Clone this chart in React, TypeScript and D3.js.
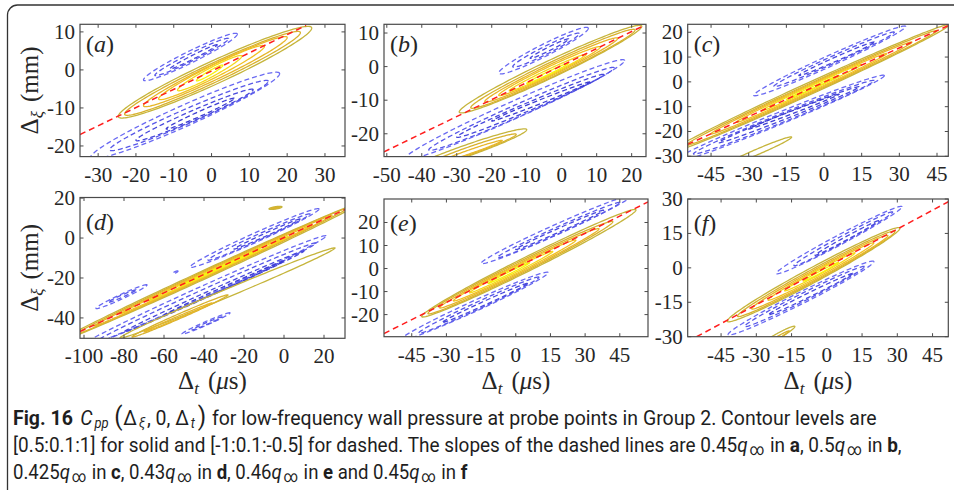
import React, { useLayoutEffect, useRef } from 'react';
import * as d3 from 'd3';

// One contour ring: [level, t1, xi1, t2, xi2, half-thickness in xi]
// (t1, xi1) and (t2, xi2) are the two tips of the elongated loop.
type Ring = [number, number, number, number, number, number];

const panelTags = ['a', 'b', 'c', 'd', 'e', 'f'];

const tLimits: [number, number][] = [
  [-34.8, 35.3],
  [-50.8, 24.1],
  [-54.3, 49.5],
  [-102, 30.5],
  [-57.0, 57.2],
  [-59.2, 51.7],
];

const xiLimits: [number, number][] = [
  [-22.8, 12.0],
  [-26.8, 12.6],
  [-30, 23.2],
  [-50.2, 20.3],
  [-29.6, 30.2],
  [-30, 30],
];

const tTickValues: number[][] = [
  [-30, -20, -10, 0, 10, 20, 30],
  [-50, -40, -30, -20, -10, 0, 10, 20],
  [-45, -30, -15, 0, 15, 30, 45],
  [-100, -80, -60, -40, -20, 0, 20],
  [-45, -30, -15, 0, 15, 30, 45],
  [-45, -30, -15, 0, 15, 30, 45],
];

const xiTickValues: number[][] = [
  [-20, -10, 0, 10],
  [-20, -10, 0, 10],
  [-30, -20, -10, 0, 10, 20],
  [-40, -20, 0, 20],
  [-20, -10, 0, 10, 20],
  [-30, -15, 0, 15, 30],
];

// Red dashed convection lines [t0, xi0, t1, xi1]
const convectionLines: [number, number, number, number][] = [
  [-34.8, -17.0, 25.0, 11.7],
  [-50.8, -25.4, 22.9, 11.9],
  [-54.3, -25.2, 49.5, 22.7],
  [-102, -46.8, 30.5, 14.3],
  [-57.0, -28.2, 57.2, 28.9],
  [-55.4, -30.0, 51.7, 28.8],
];

const solidA: Ring[] = [
  [0.5, -24.7, -12.2, 26.5, 11.0, 3.3],
  [0.6, -23.0, -11.6, 23.5, 9.8, 2.7],
  [0.7, -18.0, -9.4, 20.0, 8.5, 2.2],
  [0.8, -14.0, -7.6, 14.0, 6.2, 1.8],
  [0.9, -9.0, -5.3, 8.0, 3.6, 1.3],
  [1.0, -4.0, -2.8, 3.0, 1.2, 0.6],
];
const dashedA: Ring[] = [
  [-0.5, -18.0, -2.6, 6.8, 9.4, 1.7],
  [-0.6, -15.0, -1.4, 4.5, 8.2, 1.1],
  [-0.7, -11.0, 0.3, 1.5, 6.6, 0.55],
  [-0.5, -32.0, -23.0, 18.0, -1.0, 3.0],
  [-0.6, -27.0, -21.0, 15.0, -3.0, 2.1],
  [-0.7, -20.0, -18.5, 11.0, -5.2, 1.4],
  [-0.8, -12.0, -15.5, 6.0, -7.5, 0.7],
];

const solidB: Ring[] = [
  [0.5, -29.3, -13.5, 22.9, 12.0, 2.8],
  [0.6, -26.0, -12.2, 21.0, 10.9, 2.3],
  [0.7, -22.0, -10.4, 16.0, 8.4, 1.8],
  [0.8, -18.0, -8.5, 11.0, 5.8, 1.4],
  [0.9, -15.0, -7.2, 7.0, 3.6, 0.9],
  [1.0, -10.0, -5.0, 2.0, 1.0, 0.45],
  [0.5, -45.0, -31.5, -10.0, -18.8, 1.8],
  [0.6, -40.0, -30.0, -13.0, -20.2, 1.2],
  [0.7, -35.0, -28.5, -17.0, -22.0, 0.6],
];
const dashedB: Ring[] = [
  [-0.5, -18.0, -1.9, 7.6, 11.4, 2.0],
  [-0.6, -14.0, 0.0, 5.0, 9.8, 1.3],
  [-0.7, -9.0, 2.5, 2.0, 8.2, 0.6],
  [-0.5, -45.0, -27.5, 18.0, 1.8, 2.8],
  [-0.6, -38.0, -24.8, 15.0, -0.4, 2.0],
  [-0.7, -30.0, -21.0, 12.0, -2.4, 1.3],
  [-0.8, -20.0, -16.2, 8.0, -4.6, 0.6],
];

const solidC: Ring[] = [
  [0.5, -62.0, -28.6, 50.0, 23.0, 2.6],
  [0.6, -55.0, -25.5, 45.0, 20.6, 2.1],
  [0.7, -45.0, -20.9, 35.0, 16.0, 1.7],
  [0.8, -35.0, -16.3, 25.0, 11.4, 1.3],
  [0.9, -25.0, -11.7, 15.0, 7.0, 0.85],
  [1.0, -15.0, -7.1, 6.0, 2.6, 0.4],
  [0.5, -40.0, -34.0, -12.9, -22.3, 1.2],
];
const dashedC: Ring[] = [
  [-0.5, -28.0, -5.4, 32.5, 22.3, 2.4],
  [-0.6, -20.0, -1.8, 28.0, 20.0, 1.6],
  [-0.7, -10.0, 2.6, 20.0, 16.0, 0.9],
  [-0.5, -62.0, -33.0, 24.0, 2.5, 2.6],
  [-0.6, -52.0, -29.0, 20.0, 0.5, 1.9],
  [-0.7, -42.0, -24.5, 14.0, -2.0, 1.2],
  [-0.8, -30.0, -19.0, 6.0, -5.0, 0.6],
];

const solidD: Ring[] = [
  [0.5, -112.0, -51.5, 38.0, 17.5, 2.3],
  [0.6, -105.0, -48.5, 32.0, 15.0, 1.8],
  [0.7, -95.0, -44.0, 24.0, 11.3, 1.4],
  [0.8, -82.0, -38.0, 14.0, 6.5, 1.0],
  [0.9, -68.0, -31.5, 2.0, 0.8, 0.65],
  [1.0, -52.0, -24.0, -12.0, -5.5, 0.35],
  [0.5, -82.0, -50.0, 25.5, -5.0, 2.2],
  [0.6, -76.0, -49.5, -28.0, -28.5, 1.3],
  [0.7, -70.0, -47.0, -36.0, -32.5, 0.6],
  [0.5, -7.5, 14.6, -1.0, 15.6, 0.6],
  [0.6, -6.5, 14.8, -2.0, 15.4, 0.3],
];
const dashedD: Ring[] = [
  [-0.5, -47.0, -14.5, 17.5, 14.5, 2.5],
  [-0.6, -38.0, -11.0, 13.0, 12.0, 1.6],
  [-0.7, -25.0, -5.5, 8.0, 9.5, 0.8],
  [-0.5, -94.0, -35.2, -68.5, -23.5, 1.3],
  [-0.6, -88.0, -32.2, -74.0, -26.0, 0.6],
  [-0.5, -55.5, -17.6, -53.0, -16.6, 0.4],
  [-0.5, -104.0, -55.5, 21.0, 1.0, 3.0],
  [-0.6, -95.0, -52.5, 16.0, -2.5, 2.2],
  [-0.7, -80.0, -47.0, 10.0, -6.5, 1.4],
  [-0.8, -60.0, -38.5, 0.0, -11.5, 0.7],
  [-0.5, -51.0, -48.0, -27.0, -37.5, 1.0],
  [-0.6, -46.0, -46.0, -31.0, -39.5, 0.5],
];

const solidE: Ring[] = [
  [0.5, -40.7, -20.8, 52.0, 25.4, 3.4],
  [0.6, -38.0, -19.5, 42.0, 20.3, 2.8],
  [0.7, -33.0, -17.0, 36.0, 17.2, 2.2],
  [0.8, -27.0, -14.0, 26.0, 12.3, 1.7],
  [0.9, -20.0, -10.5, 16.0, 7.4, 1.1],
  [1.0, -12.0, -6.5, 6.0, 2.5, 0.5],
];
const dashedE: Ring[] = [
  [-0.5, -15.0, 2.3, 50.0, 31.5, 2.4],
  [-0.6, -8.0, 4.8, 45.0, 28.6, 1.6],
  [-0.7, 0.0, 8.3, 38.0, 25.3, 0.9],
  [-0.5, -50.0, -31.0, 14.0, -1.8, 2.5],
  [-0.6, -42.0, -28.0, 10.0, -3.8, 1.7],
  [-0.7, -32.0, -23.5, 5.0, -6.5, 0.9],
];

const solidF: Ring[] = [
  [0.5, -42.4, -23.2, 31.1, 17.2, 3.6],
  [0.6, -38.0, -21.0, 29.0, 15.8, 2.9],
  [0.7, -32.0, -17.8, 26.0, 14.0, 2.3],
  [0.8, -25.0, -14.0, 20.0, 10.8, 1.7],
  [0.9, -18.0, -10.0, 12.0, 6.5, 1.1],
  [1.0, -10.0, -5.8, 5.0, 2.4, 0.5],
  [0.5, -30.0, -35.0, -13.6, -25.6, 1.3],
  [0.6, -27.0, -34.0, -16.0, -27.5, 0.6],
];
const dashedF: Ring[] = [
  [-0.5, -21.5, -2.4, 32.0, 26.6, 2.4],
  [-0.6, -14.0, 1.0, 28.0, 24.3, 1.6],
  [-0.7, -5.0, 5.5, 22.0, 20.5, 0.8],
  [-0.5, -42.0, -29.0, 20.0, 2.7, 2.8],
  [-0.6, -35.0, -25.5, 16.0, 0.5, 1.9],
  [-0.7, -25.0, -20.5, 11.0, -2.5, 1.0],
];

const solidRings = [solidA, solidB, solidC, solidD, solidE, solidF];
const dashedRings = [dashedA, dashedB, dashedC, dashedD, dashedE, dashedF];

// Axes boxes in page pixels
const frames = [
  { left: 80, top: 24.3, right: 345, bottom: 156.6 },
  { left: 384, top: 24.3, right: 646, bottom: 156.6 },
  { left: 687.7, top: 24.3, right: 948.3, bottom: 156.3 },
  { left: 80, top: 197.5, right: 345, bottom: 338.3 },
  { left: 384, top: 199, right: 648, bottom: 336.7 },
  { left: 687.7, top: 199, right: 948.3, bottom: 336.7 },
];

const levelColor = (level: number): string => {
  const solid: Record<string, string> = {
    '0.5': '#c6b53c',
    '0.6': '#d8b22e',
    '0.7': '#e7b62a',
    '0.8': '#f1c124',
    '0.9': '#f5d91c',
    '1': '#f7f20f',
  };
  const dashed: Record<string, string> = {
    '-0.5': '#6a6af2',
    '-0.6': '#5858e8',
    '-0.7': '#4848dc',
    '-0.8': '#3c3cd2',
  };
  const key = String(Math.round(level * 10) / 10);
  return level > 0 ? solid[key] : dashed[key];
};

const SERIF = "'Liberation Serif', 'Times New Roman', serif";
const SANS = "Roboto, 'Noto Sans', sans-serif";
const INK = '#262626';

function Panel({ idx }: { idx: number }) {
  const f = frames[idx];
  const x = d3.scaleLinear().domain(tLimits[idx]).range([f.left, f.right]);
  const y = d3.scaleLinear().domain(xiLimits[idx]).range([f.bottom, f.top]);
  const line = d3
    .line<[number, number]>()
    .x((d) => x(d[0]))
    .y((d) => y(d[1]))
    .curve(d3.curveLinearClosed);

  const ringPath = (r: Ring) => {
    const [, t1, x1, t2, x2, h] = r;
    const tm = (t1 + t2) / 2;
    const xm = (x1 + x2) / 2;
    const dt = (t2 - t1) / 2;
    const dx = (x2 - x1) / 2;
    const pts: [number, number][] = d3.range(160).map((i) => {
      const s = (i / 160) * Math.PI * 2;
      return [tm + dt * Math.cos(s), xm + dx * Math.cos(s) + h * Math.sin(s)];
    });
    return line(pts) || '';
  };

  const clipId = `clip-${panelTags[idx]}`;
  const bottomRow = idx >= 3;
  const [l0t, l0x, l1t, l1x] = convectionLines[idx];
  const tick = 3.5;

  return (
    <g>
      <defs>
        <clipPath id={clipId}>
          <rect x={f.left} y={f.top} width={f.right - f.left} height={f.bottom - f.top} />
        </clipPath>
      </defs>
      <g clipPath={`url(#${clipId})`} fill="none">
        {dashedRings[idx].map((r, i) => (
          <path
            key={`d${i}`}
            d={ringPath(r)}
            stroke={levelColor(r[0])}
            strokeWidth={1.3}
            strokeDasharray="5 3"
          />
        ))}
        {solidRings[idx].map((r, i) => (
          <path key={`s${i}`} d={ringPath(r)} stroke={levelColor(r[0])} strokeWidth={1.3} />
        ))}
        <line
          x1={x(l0t)}
          y1={y(l0x)}
          x2={x(l1t)}
          y2={y(l1x)}
          stroke="#ff1e1e"
          strokeWidth={1.5}
          strokeDasharray="6 4"
        />
      </g>
      {/* box with inward ticks on all sides */}
      <rect
        x={f.left}
        y={f.top}
        width={f.right - f.left}
        height={f.bottom - f.top}
        fill="none"
        stroke="#4a4a4a"
        strokeWidth={1.2}
      />
      {tTickValues[idx].map((v) => (
        <g key={`tx${v}`} stroke="#4a4a4a" strokeWidth={1}>
          <line x1={x(v)} x2={x(v)} y1={f.bottom} y2={f.bottom - tick} />
          <line x1={x(v)} x2={x(v)} y1={f.top} y2={f.top + tick} />
        </g>
      ))}
      {xiTickValues[idx].map((v) => (
        <g key={`ty${v}`} stroke="#4a4a4a" strokeWidth={1}>
          <line x1={f.left} x2={f.left + tick} y1={y(v)} y2={y(v)} />
          <line x1={f.right} x2={f.right - tick} y1={y(v)} y2={y(v)} />
        </g>
      ))}
      <g fontFamily={SERIF} fontSize={21} fill={INK}>
        {tTickValues[idx].map((v) => (
          <text key={`lx${v}`} x={x(v)} y={f.bottom + 25} textAnchor="middle">
            {String(v)}
          </text>
        ))}
        {xiTickValues[idx].map((v) => (
          <text key={`ly${v}`} x={f.left - 5} y={y(v) + 7} textAnchor="end">
            {String(v)}
          </text>
        ))}
      </g>
      <text
        x={f.left + 6}
        y={f.top + (bottomRow ? 32 : 28)}
        fontFamily={SERIF}
        fontSize={24}
        fill={INK}
      >
        (<tspan fontStyle="italic">{panelTags[idx]}</tspan>)
      </text>
      {bottomRow && (
        <text
          x={(f.left + f.right) / 2}
          y={389}
          textAnchor="middle"
          fontFamily={SERIF}
          fontSize={25}
          fill={INK}
        >
          Δ
          <tspan fontStyle="italic" fontSize={17} baselineShift="-5">
            t
          </tspan>
          <tspan dx={9}>(</tspan>
          <tspan fontStyle="italic">μ</tspan>s)
        </text>
      )}
      {idx % 3 === 0 && (
        <text
          transform={`translate(38, ${(f.top + f.bottom) / 2}) rotate(-90)`}
          textAnchor="middle"
          fontFamily={SERIF}
          fontSize={25}
          fill={INK}
        >
          Δ
          <tspan fontStyle="italic" fontSize={17} baselineShift="-5">
            ξ
          </tspan>
          <tspan dx={9}>(mm)</tspan>
        </text>
      )}
    </g>
  );
}

const captionStarts = 13;
const captionBaselines = [424.5, 451.5, 478.5];
const captionWidths = [864, 889, 455];

function Qinf() {
  return (
    <>
      <tspan fontStyle="italic">q</tspan>
      <tspan dx={2} fontSize={16} baselineShift="-3">
        ∞
      </tspan>
    </>
  );
}

export default function App() {
  const lineRefs = useRef<(SVGTextElement | null)[]>([]);

  useLayoutEffect(() => {
    lineRefs.current.forEach((el, i) => {
      if (!el) return;
      el.setAttribute('transform', `translate(${captionStarts}, ${captionBaselines[i]})`);
      const w = el.getBBox().width;
      if (w > 0) {
        const k = captionWidths[i] / w;
        el.setAttribute(
          'transform',
          `translate(${captionStarts}, ${captionBaselines[i]}) scale(${k}, 1)`
        );
      }
    });
  });

  const captionText = (i: number, children: React.ReactNode) => (
    <text
      ref={(el) => {
        lineRefs.current[i] = el;
      }}
      transform={`translate(${captionStarts}, ${captionBaselines[i]})`}
      x={0}
      y={0}
      fontFamily={SANS}
      fontSize={21}
      fill="#1e1e1e"
    >
      {children}
    </text>
  );

  return (
    <svg
      width={954}
      height={497}
      viewBox="0 0 954 497"
      style={{ position: 'absolute', left: 0, top: 0, display: 'block', background: '#fff' }}
    >
      <path
        d="M 7.5 490 V 15 A 10 10 0 0 1 17.5 5 H 960"
        fill="none"
        stroke="#333"
        strokeWidth={1.3}
      />
      {panelTags.map((_, i) => (
        <Panel key={i} idx={i} />
      ))}
      {captionText(
        0,
        <>
          <tspan fontWeight="bold">Fig. 16</tspan>
          <tspan dx={8} fontStyle="italic">C</tspan>
          <tspan dx={2} fontStyle="italic" fontSize={14} baselineShift="-3">
            pp
          </tspan>
          <tspan dx={6} fontSize={26}>
            (
          </tspan>
          <tspan dx={1}>Δ</tspan>
          <tspan dx={2} fontStyle="italic" fontSize={14} baselineShift="-3">
            ξ
          </tspan>
          <tspan dx={2}>, 0, Δ</tspan>
          <tspan dx={2} fontStyle="italic" fontSize={14} baselineShift="-3">
            t
          </tspan>
          <tspan dx={3} fontSize={26}>
            )
          </tspan>
          <tspan dx={1}> for low-frequency wall pressure at probe points in Group 2. Contour levels are</tspan>
        </>
      )}
      {captionText(
        1,
        <>
          [0.5:0.1:1] for solid and [-1:0.1:-0.5] for dashed. The slopes of the dashed lines are 0.45
          <Qinf />
          <tspan dx={1}> in </tspan>
          <tspan fontWeight="bold">a</tspan>, 0.5
          <Qinf />
          <tspan dx={1}> in </tspan>
          <tspan fontWeight="bold">b</tspan>,
        </>
      )}
      {captionText(
        2,
        <>
          0.425
          <Qinf />
          <tspan dx={1}> in </tspan>
          <tspan fontWeight="bold">c</tspan>, 0.43
          <Qinf />
          <tspan dx={1}> in </tspan>
          <tspan fontWeight="bold">d</tspan>, 0.46
          <Qinf />
          <tspan dx={1}> in </tspan>
          <tspan fontWeight="bold">e</tspan> and 0.45
          <Qinf />
          <tspan dx={1}> in </tspan>
          <tspan fontWeight="bold">f</tspan>
        </>
      )}
    </svg>
  );
}
